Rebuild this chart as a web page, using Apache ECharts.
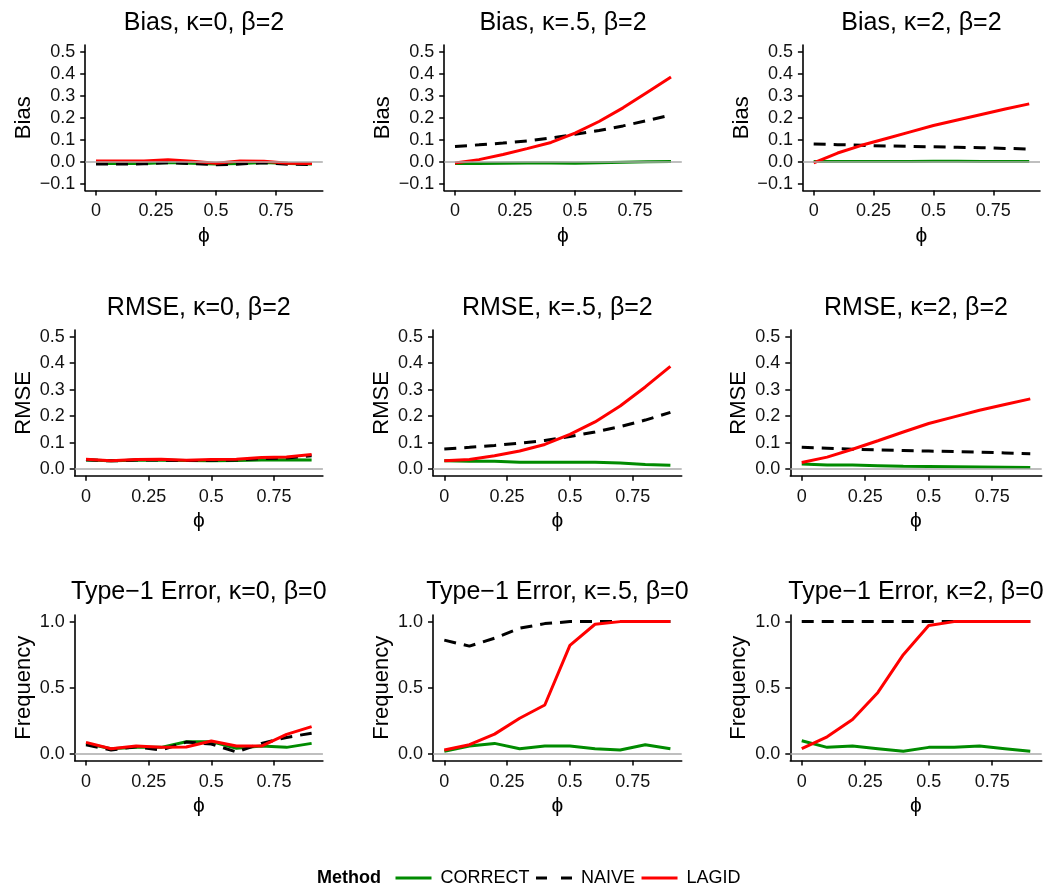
<!DOCTYPE html>
<html><head><meta charset="utf-8">
<script src="https://cdn.jsdelivr.net/npm/echarts@6/dist/echarts.min.js"></script>
<style>html,body{margin:0;padding:0;background:#fff}#c{width:1051px;height:888px}</style>
</head><body><div id="c"></div>
<script>
// ---- data ----
const phi = [0, 0.1, 0.2, 0.3, 0.4, 0.5, 0.6, 0.7, 0.8, 0.9];
const xTicks = [0, 0.25, 0.5, 0.75];
const yTicksBias = [-0.1, 0, 0.1, 0.2, 0.3, 0.4, 0.5];
const yTicksRmse = [0, 0.1, 0.2, 0.3, 0.4, 0.5];
const yTicksFreq = [0, 0.5, 1];
const methods = ['CORRECT', 'NAIVE', 'LAGID'];
const panelTitles = [
  'Bias, κ=0, β=2', 'Bias, κ=.5, β=2', 'Bias, κ=2, β=2',
  'RMSE, κ=0, β=2', 'RMSE, κ=.5, β=2', 'RMSE, κ=2, β=2',
  'Type\u22121 Error, κ=0, β=0', 'Type\u22121 Error, κ=.5, β=0', 'Type\u22121 Error, κ=2, β=0'
];
const yNames = ['Bias', 'RMSE', 'Frequency'];

const bias_k0_correct = [-0.008,-0.008,-0.007,-0.003,-0.006,-0.010,-0.008,-0.003,-0.008,-0.010];
const bias_k0_naive   = [-0.010,-0.010,-0.009,-0.004,-0.008,-0.013,-0.010,-0.004,-0.011,-0.012];
const bias_k0_lagid   = [0.004,0.004,0.004,0.010,0.003,-0.006,0.004,0.003,-0.006,-0.008];

const bias_k05_correct = [-0.008,-0.007,-0.006,-0.005,-0.005,-0.006,-0.004,-0.002,0.000,0.002];
const bias_k05_naive   = [0.070,0.077,0.085,0.095,0.108,0.125,0.142,0.163,0.187,0.213];
const bias_k05_lagid   = [-0.005,0.010,0.033,0.060,0.088,0.130,0.183,0.245,0.315,0.385];

const bias_k2_correct = [0.001,0.002,0.002,0.001,0.002,0.003,0.003,0.002,0.002,0.002];
const bias_k2_naive   = [0.081,0.078,0.075,0.072,0.070,0.068,0.066,0.064,0.061,0.058];
const bias_k2_lagid   = [-0.005,0.040,0.075,0.105,0.135,0.165,0.190,0.215,0.240,0.263];

const rmse_k0_correct = [0.034,0.031,0.033,0.033,0.032,0.031,0.032,0.034,0.035,0.034];
const rmse_k0_naive   = [0.035,0.031,0.034,0.034,0.032,0.033,0.034,0.040,0.042,0.050];
const rmse_k0_lagid   = [0.037,0.031,0.036,0.037,0.033,0.036,0.037,0.044,0.046,0.055];

const rmse_k05_correct = [0.031,0.030,0.030,0.026,0.026,0.026,0.026,0.023,0.017,0.014];
const rmse_k05_naive   = [0.076,0.082,0.089,0.098,0.108,0.123,0.140,0.160,0.185,0.214];
const rmse_k05_lagid   = [0.031,0.036,0.050,0.068,0.093,0.131,0.178,0.238,0.310,0.388];

const rmse_k2_correct = [0.019,0.015,0.015,0.013,0.011,0.010,0.009,0.008,0.007,0.006];
const rmse_k2_naive   = [0.082,0.079,0.075,0.072,0.070,0.068,0.066,0.064,0.061,0.058];
const rmse_k2_lagid   = [0.025,0.045,0.075,0.107,0.140,0.172,0.197,0.222,0.244,0.265];

const t1_k0_correct = [0.080,0.040,0.050,0.050,0.093,0.093,0.043,0.060,0.050,0.080];
const t1_k0_naive   = [0.070,0.030,0.055,0.030,0.090,0.075,0.015,0.080,0.125,0.157];
const t1_k0_lagid   = [0.088,0.040,0.060,0.050,0.053,0.098,0.060,0.060,0.148,0.207];

const t1_k05_correct = [0.020,0.060,0.080,0.040,0.060,0.060,0.040,0.030,0.070,0.040];
const t1_k05_naive   = [0.860,0.815,0.875,0.950,0.985,1.000,1.000,1.000,1.000,1.000];
const t1_k05_lagid   = [0.030,0.070,0.150,0.270,0.370,0.820,0.980,1.000,1.000,1.000];

const t1_k2_correct = [0.100,0.050,0.060,0.040,0.020,0.050,0.050,0.060,0.040,0.020];
const t1_k2_naive   = [1.000,1.000,1.000,1.000,1.000,1.000,1.000,1.000,1.000,1.000];
const t1_k2_lagid   = [0.040,0.130,0.260,0.465,0.750,0.970,1.000,1.000,1.000,1.000];

const panelData = [
  [bias_k0_correct, bias_k0_naive, bias_k0_lagid],
  [bias_k05_correct, bias_k05_naive, bias_k05_lagid],
  [bias_k2_correct, bias_k2_naive, bias_k2_lagid],
  [rmse_k0_correct, rmse_k0_naive, rmse_k0_lagid],
  [rmse_k05_correct, rmse_k05_naive, rmse_k05_lagid],
  [rmse_k2_correct, rmse_k2_naive, rmse_k2_lagid],
  [t1_k0_correct, t1_k0_naive, t1_k0_lagid],
  [t1_k05_correct, t1_k05_naive, t1_k05_lagid],
  [t1_k2_correct, t1_k2_naive, t1_k2_lagid]
];
const rowTicks = [yTicksBias, yTicksRmse, yTicksFreq];

// ---- layout / style ----
const rows = [
  {top: 45, height: 145.5, ymin: -0.13, ymax: 0.53, nameGap: 50, lefts: [85.2, 444.2, 802.9], widths: [237.6, 237.6, 237.1], titleTop: 11},
  {top: 330, height: 145.7, ymin: -0.025, ymax: 0.525, nameGap: 40, lefts: [74.7, 433, 790.3], widths: [248.2, 248.7, 251.4], titleTop: 296},
  {top: 615, height: 145.6, ymin: -0.05, ymax: 1.05, nameGap: 40, lefts: [74.7, 433, 790.3], widths: [248.2, 248.7, 251.4], titleTop: 580}
];
const colors = ['#008B00', '#000000', '#FF0000'];
const dashes = ['solid', [12, 8], 'solid'];
const legendDashes = ['solid', [11, 14], 'solid'];
const FONT = '"Liberation Sans", Arial, Helvetica, sans-serif';

const grids = [], xAxes = [], yAxes = [], series = [], titles = [];
for (let p = 0; p < 9; p++) {
  const r = Math.floor(p / 3), c = p % 3, R = rows[r];
  grids.push({left: R.lefts[c], top: R.top, width: R.widths[c], height: R.height, containLabel: false});
  titles.push({
    text: panelTitles[p], left: R.lefts[c] + R.widths[c] / 2, top: R.titleTop, textAlign: 'center', padding: 0,
    textStyle: {fontFamily: FONT, fontSize: 25, fontWeight: 'normal', color: '#000'}
  });
  xAxes.push({
    type: 'value', gridIndex: p, min: -0.045, max: 0.945,
    name: 'ϕ', nameLocation: 'middle', nameGap: 35,
    nameTextStyle: {fontFamily: FONT, fontSize: 21, color: '#000'},
    axisLine: {show: true, onZero: false, lineStyle: {color: '#000', width: 1.6}},
    axisTick: {show: true, length: 5, customValues: xTicks, lineStyle: {color: '#000', width: 1.5}},
    axisLabel: {show: true, customValues: xTicks, margin: 12, fontFamily: FONT, fontSize: 18, color: '#111',
      formatter: v => String(v)},
    splitLine: {show: false}
  });
  yAxes.push({
    type: 'value', gridIndex: p, min: R.ymin, max: R.ymax,
    name: yNames[r], nameLocation: 'middle', nameGap: R.nameGap,
    nameTextStyle: {fontFamily: FONT, fontSize: 22, color: '#000'},
    axisLine: {show: true, onZero: false, lineStyle: {color: '#000', width: 1.6}},
    axisTick: {show: true, length: 5, customValues: rowTicks[r], lineStyle: {color: '#000', width: 1.5}},
    axisLabel: {show: true, customValues: rowTicks[r], margin: 10, fontFamily: FONT, fontSize: 18, color: '#111',
      formatter: v => (v < 0 ? '\u2212' : '') + Math.abs(v).toFixed(1)},
    splitLine: {show: false}
  });
  for (let m = 0; m < 3; m++) {
    series.push({
      type: 'line', name: methods[m], xAxisIndex: p, yAxisIndex: p,
      data: phi.map((x, j) => [x, panelData[p][m][j]]),
      showSymbol: false, symbol: 'none', smooth: false, z: 2 + m,
      color: colors[m],
      lineStyle: {color: colors[m], width: 3, type: dashes[m]},
      emphasis: {disabled: true}
    });
  }
  series.push({
    type: 'line', name: 'zero', xAxisIndex: p, yAxisIndex: p, data: [], z: 10, silent: true,
    markLine: {silent: true, symbol: ['none', 'none'], label: {show: false}, animation: false,
      lineStyle: {color: '#aaaaaa', width: 1.5, type: 'solid'}, data: [{yAxis: 0}]}
  });
}

const chart = echarts.init(document.getElementById('c'), null, {renderer: 'canvas'});
chart.setOption({
  animation: false,
  backgroundColor: '#fff',
  title: titles,
  grid: grids,
  xAxis: xAxes,
  yAxis: yAxes,
  series: series,
  legend: {
    data: methods.map((m, i) => ({name: m, lineStyle: {type: legendDashes[i], width: 3}})),
    left: 394, top: 869, padding: 0, itemWidth: 36, itemHeight: 14, itemGap: 5,
    selectedMode: false,
    itemStyle: {color: 'rgba(0,0,0,0)', borderColor: 'rgba(0,0,0,0)', borderWidth: 0, opacity: 0},
    lineStyle: {width: 3},
    textStyle: {fontFamily: FONT, fontSize: 18, color: '#000', padding: [0, 0, 0, 4]}
  },
  graphic: [{
    type: 'text', left: 317, top: 869,
    style: {text: 'Method', font: 'bold 18px ' + FONT, fill: '#000'}
  }]
});
</script>
</body></html>
